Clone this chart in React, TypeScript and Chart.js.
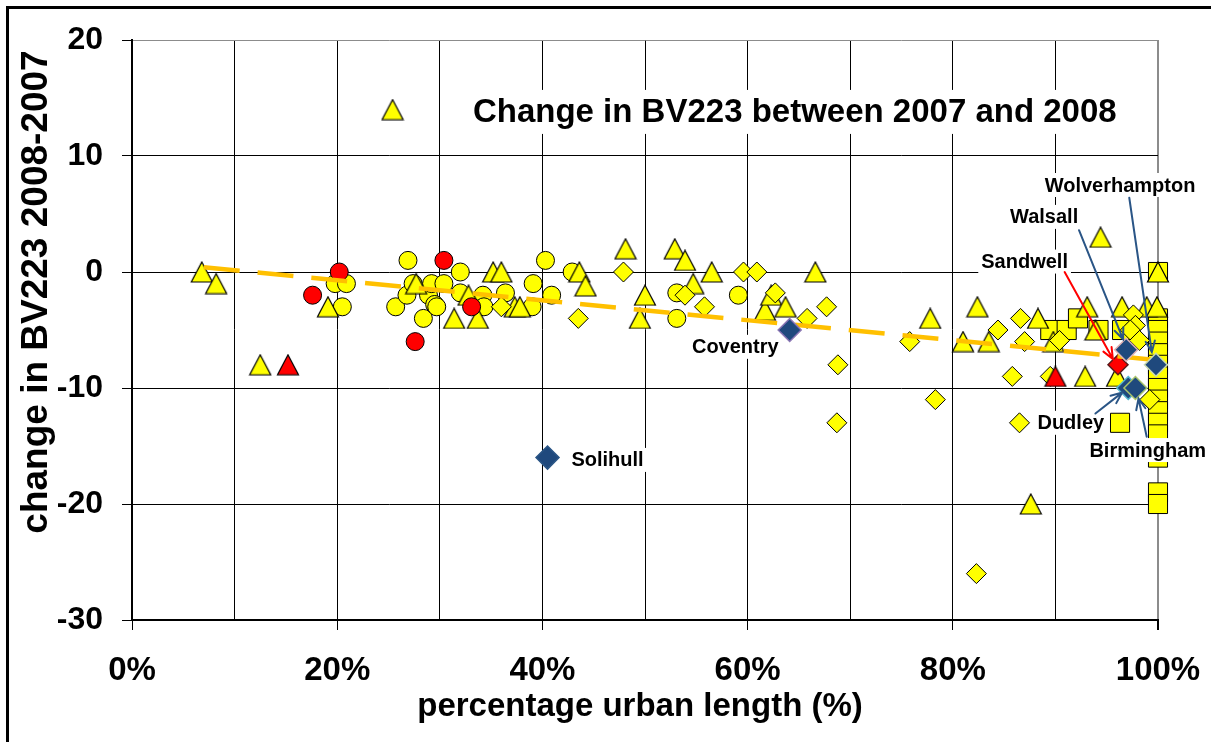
import React, { useEffect, useRef } from 'react';
import { Chart, registerables } from 'chart.js';

Chart.register(...registerables);

// ---------- axes ----------
const X_MIN = 0;
const X_MAX = 100;
const X_STEP = 10;
const X_LABEL_STEP = 20;
const Y_MIN = -30;
const Y_MAX = 20;
const Y_STEP = 10;

const CHART_TITLE = 'Change in BV223 between 2007 and 2008';
const X_TITLE = 'percentage urban length (%)';
const Y_TITLE = 'change in BV223 2008-2007';

// ---------- data (x = % urban length, y = change) ----------
const yellowTriangles: [number, number][] = [
  [6.8, 0], [8.2, -1], [12.5, -8], [19.1, -3], [25.4, 14], [27.7, -1],
  [31.4, -4], [32.8, -2], [33.7, -4], [35.2, 0], [36, 0], [37.3, -3], [37.8, -3],
  [43.6, 0], [44.2, -1.2], [48.1, 2], [49.5, -4], [50, -2], [52.9, 2],
  [53.9, 1], [54.7, -1], [56.5, 0], [61.7, -3.3], [62.3, -2], [63.7, -3],
  [66.6, 0], [77.8, -4], [81, -6], [82.4, -3], [83.5, -6], [87.6, -20],
  [88.3, -4], [89.8, -6], [92.9, -9], [93.1, -3], [93.9, -5], [94.4, 3],
  [96, -9], [96.5, -3], [98.9, -3], [99.9, -3], [100, 0],
];
const redTriangles: [number, number][] = [[15.2, -8], [90, -9]];

const yellowCircles: [number, number][] = [
  [19.8, -1], [20.9, -1], [20.5, -3], [25.7, -3], [26.8, -2], [26.9, 1],
  [27.4, -1], [28.4, -4], [28.9, -2], [29.2, -1], [29.5, -2.8], [29.7, -3],
  [30.4, -1], [32, 0], [32, -1.8], [34.2, -2], [34.3, -3], [36.4, -1.8],
  [39, -3], [39.1, -1], [40.3, 1], [40.9, -2], [42.9, 0], [53.1, -1.8],
  [53.1, -4], [59.1, -2],
];
const redCircles: [number, number][] = [[17.6, -2], [20.2, 0], [27.6, -6], [30.4, 1], [33.1, -3]];

const yellowDiamonds: [number, number][] = [
  [36, -3], [43.5, -4], [47.9, 0], [53.9, -2], [55.8, -3], [59.6, 0],
  [60.9, 0], [62.7, -1.8], [65.8, -4], [67.7, -3], [68.8, -8], [68.7, -13],
  [75.8, -6], [78.3, -11], [82.3, -26], [84.4, -5], [85.8, -9], [86.6, -4],
  [86.5, -13], [87, -6], [89.5, -9], [90.4, -5.9], [97.6, -3.7], [97.8, -4.6],
  [97.3, -5], [98.2, -5.9], [99.2, -11],
];
const yellowSquares: [number, number][] = [
  [89.5, -5], [91.1, -5], [92.2, -4], [94.2, -5], [96.5, -5], [96.3, -13],
  [100, 0], [100, -4], [100, -5], [100, -6], [100, -7], [100, -8], [100, -9],
  [100, -10], [100, -11], [100, -12], [100, -13], [100, -14], [100, -16],
  [100, -19], [100, -20],
];
const sandwellPoint: [number, number][] = [[96.1, -8]];

const namedAuthorities = ['Solihull', 'Coventry', 'Walsall', 'Wolverhampton', 'Dudley', 'Birmingham'];
const namedValues: [number, number][] = [[40.5, -16], [64.1, -5], [96.9, -6.7], [99.8, -8], [97.1, -10], [97.8, -10]];
const namedBorders = ['#2a5586', '#8a76b4', '#e2b4b4', '#c9d9b0', '#58b8d0', '#a9c46b'];

const trendX = [7, 100];
const trendY = [0.4, -7.6];

// label anchors (data units) and arrows (data units)
const labelTexts = ['Solihull', 'Coventry', 'Sandwell', 'Walsall', 'Wolverhampton', 'Dudley', 'Birmingham'];
const labelAt: [number, number][] = [[46.35, -16.2], [58.8, -6.45], [87.0, 0.9], [88.9, 4.75], [96.3, 7.5], [91.5, -13.0], [99.0, -15.35]];
const arrowFrom: ([number, number] | null)[] = [null, null, [90.9, 0.0], [92.3, 3.6], [97.2, 6.4], [93.9, -12.2], [98.9, -14.2]];
const arrowTo: ([number, number] | null)[] = [null, null, [95.6, -7.5], [96.6, -5.8], [99.4, -6.9], [96.5, -10.4], [98.1, -10.9]];
const arrowColors = ['', '', '#ff0000', '#2a5586', '#2a5586', '#2a5586', '#2a5586'];

const titleAt: [number, number] = [64.6, 13.8];

const FONT = '"Liberation Sans", Arial, Helvetica, sans-serif';

function toXY(list: [number, number][]) {
  return list.map(([x, y]) => ({ x, y }));
}

function makeTriangle(fill: string): HTMLCanvasElement {
  const c = document.createElement('canvas');
  c.width = 24;
  c.height = 22;
  const g = c.getContext('2d')!;
  g.beginPath();
  g.moveTo(12, 1);
  g.lineTo(22.5, 21);
  g.lineTo(1.5, 21);
  g.closePath();
  g.fillStyle = fill;
  g.fill();
  g.lineWidth = 1.2;
  g.strokeStyle = '#000';
  g.stroke();
  return c;
}

function drawArrow(ctx: CanvasRenderingContext2D, x1: number, y1: number, x2: number, y2: number, color: string) {
  ctx.save();
  ctx.strokeStyle = color;
  ctx.lineWidth = 2;
  ctx.lineCap = 'round';
  ctx.beginPath();
  ctx.moveTo(x1, y1);
  ctx.lineTo(x2, y2);
  const a = Math.atan2(y2 - y1, x2 - x1);
  const L = 12;
  const s = 0.4;
  ctx.moveTo(x2 - L * Math.cos(a - s), y2 - L * Math.sin(a - s));
  ctx.lineTo(x2, y2);
  ctx.lineTo(x2 - L * Math.cos(a + s), y2 - L * Math.sin(a + s));
  ctx.stroke();
  ctx.restore();
}

const overlay = {
  id: 'overlay',
  afterDatasetsDraw(chart: any) {
    const { ctx, scales } = chart;
    const xs = scales.x;
    const ys = scales.y;
    const px = (v: number) => xs.getPixelForValue(v);
    const py = (v: number) => ys.getPixelForValue(v);
    ctx.save();
    // chart title box
    ctx.font = `bold 33px ${FONT}`;
    ctx.textAlign = 'center';
    ctx.textBaseline = 'middle';
    const tx = px(titleAt[0]);
    const ty = py(titleAt[1]);
    const tw = ctx.measureText(CHART_TITLE).width;
    ctx.fillStyle = '#fff';
    ctx.fillRect(tx - tw / 2 - 10, ty - 22, tw + 20, 44);
    ctx.fillStyle = '#000';
    ctx.fillText(CHART_TITLE, tx, ty + 1);

    // labels
    ctx.font = `bold 20px ${FONT}`;
    labelTexts.forEach((t, i) => {
      const cx = px(labelAt[i][0]);
      const cy = py(labelAt[i][1]);
      const w = ctx.measureText(t).width;
      ctx.fillStyle = '#fff';
      ctx.fillRect(cx - w / 2 - 3, cy - 12, w + 6, 24);
      ctx.fillStyle = '#000';
      ctx.fillText(t, cx, cy + 1);
    });
    // arrows
    labelTexts.forEach((_, i) => {
      const f = arrowFrom[i];
      const to = arrowTo[i];
      if (!f || !to) return;
      drawArrow(ctx, px(f[0]), py(f[1]), px(to[0]), py(to[1]), arrowColors[i]);
    });
    ctx.restore();
  },
  afterDraw(chart: any) {
    const { ctx, chartArea } = chart;
    ctx.save();
    // outer frame
    ctx.strokeStyle = '#000';
    ctx.lineWidth = 3;
    ctx.strokeRect(7.5, 7.5, 1400, 900);
    // axis titles
    ctx.fillStyle = '#000';
    ctx.textAlign = 'center';
    ctx.textBaseline = 'middle';
    ctx.font = `bold 33px ${FONT}`;
    ctx.fillText(X_TITLE, (chartArea.left + chartArea.right) / 2 - 5, 707);
    ctx.font = `bold 37px ${FONT}`;
    ctx.translate(37, 292);
    ctx.rotate(-Math.PI / 2);
    ctx.fillText(Y_TITLE, 0, 0);
    ctx.restore();
  },
};

export default function App() {
  const ref = useRef<HTMLCanvasElement | null>(null);

  useEffect(() => {
    if (!ref.current) return;
    const yellowTri = makeTriangle('#ffff00');
    const redTri = makeTriangle('#ff0000');

    const chart = new Chart(ref.current, {
      type: 'scatter',
      data: {
        datasets: [
          {
            label: 'named',
            data: toXY(namedValues),
            pointStyle: 'rectRot',
            pointRadius: 11.5,
            backgroundColor: '#1f497d',
            borderColor: namedBorders,
            borderWidth: 1.5,
            order: 1,
            clip: false,
          } as any,
          {
            label: 'trend',
            data: trendX.map((x, i) => ({ x, y: trendY[i] })),
            showLine: true,
            borderColor: '#ffc000',
            borderWidth: 4.5,
            borderDash: [36, 18],
            borderCapStyle: 'butt',
            pointRadius: 0,
            fill: false,
            order: 2,
          } as any,
          {
            label: 'Sandwell',
            data: toXY(sandwellPoint),
            pointStyle: 'rectRot',
            pointRadius: 10,
            backgroundColor: '#ff0000',
            borderColor: '#5a1a1a',
            borderWidth: 1.5,
            order: 3,
            clip: false,
          } as any,
          {
            label: 'red circles',
            data: toXY(redCircles),
            pointStyle: 'circle',
            pointRadius: 9,
            backgroundColor: '#ff0000',
            borderColor: '#000',
            borderWidth: 1,
            order: 4,
            clip: false,
          } as any,
          {
            label: 'red triangles',
            data: toXY(redTriangles),
            pointStyle: redTri,
            pointRadius: 10,
            order: 4,
            clip: false,
          } as any,
          {
            label: 'yellow diamonds',
            data: toXY(yellowDiamonds),
            pointStyle: 'rectRot',
            pointRadius: 10,
            backgroundColor: '#ffff00',
            borderColor: '#000',
            borderWidth: 1,
            order: 5,
            clip: false,
          } as any,
          {
            label: 'yellow squares',
            data: toXY(yellowSquares),
            pointStyle: 'rect',
            pointRadius: 13.5,
            backgroundColor: '#ffff00',
            borderColor: '#000',
            borderWidth: 1,
            order: 6,
            clip: false,
          } as any,
          {
            label: 'yellow triangles',
            data: toXY(yellowTriangles),
            pointStyle: yellowTri,
            pointRadius: 10,
            order: 5,
            clip: false,
          } as any,
          {
            label: 'yellow circles',
            data: toXY(yellowCircles),
            pointStyle: 'circle',
            pointRadius: 9,
            backgroundColor: '#ffff00',
            borderColor: '#000',
            borderWidth: 1,
            order: 7,
            clip: false,
          } as any,
        ],
      },
      options: {
        responsive: false,
        animation: false,
        events: [],
        layout: { padding: { top: 40, right: 53, left: 0, bottom: 0 } },
        plugins: {
          legend: { display: false },
          tooltip: { enabled: false },
          title: { display: false },
        },
        scales: {
          x: {
            type: 'linear',
            min: X_MIN,
            max: X_MAX,
            afterFit: (s: any) => {
              s.height = 122;
              s.paddingLeft = 0;
              s.paddingRight = 0;
            },
            ticks: {
              stepSize: X_STEP,
              autoSkip: false,
              maxRotation: 0,
              padding: 21,
              color: '#000',
              font: { family: FONT, size: 33, weight: 'bold' },
              callback: (v: any) => (Number(v) % X_LABEL_STEP === 0 ? `${v}%` : ''),
            },
            grid: {
              color: (c: any) => (c.tick && c.tick.value === X_MAX ? '#8c8c8c' : '#000'),
              lineWidth: (c: any) => (c.tick && c.tick.value === X_MAX ? 2 : 1),
              tickLength: 10,
              tickColor: (c: any) => (c.tick && c.tick.value % X_LABEL_STEP === 0 ? '#000' : 'rgba(0,0,0,0)'),
            },
            border: { display: true, color: '#000', width: 2 },
          },
          y: {
            type: 'linear',
            min: Y_MIN,
            max: Y_MAX,
            afterFit: (s: any) => {
              s.width = 132;
              s.paddingTop = 0;
              s.paddingBottom = 0;
            },
            ticks: {
              stepSize: Y_STEP,
              padding: 19,
              color: '#000',
              font: { family: FONT, size: 32, weight: 'bold' },
            },
            grid: {
              color: (c: any) => (c.tick && c.tick.value === Y_MAX ? '#8c8c8c' : '#000'),
              lineWidth: 1,
              tickLength: 10,
              tickColor: '#000',
            },
            border: { display: true, color: '#000', width: 2 },
          },
        },
      } as any,
      plugins: [overlay],
    });
    return () => chart.destroy();
  }, []);

  return (
    <div style={{ position: 'fixed', left: 0, top: 0, width: 1211, height: 742, background: '#fff' }}>
      <canvas ref={ref} width={1211} height={742} style={{ display: 'block' }} />
    </div>
  );
}
